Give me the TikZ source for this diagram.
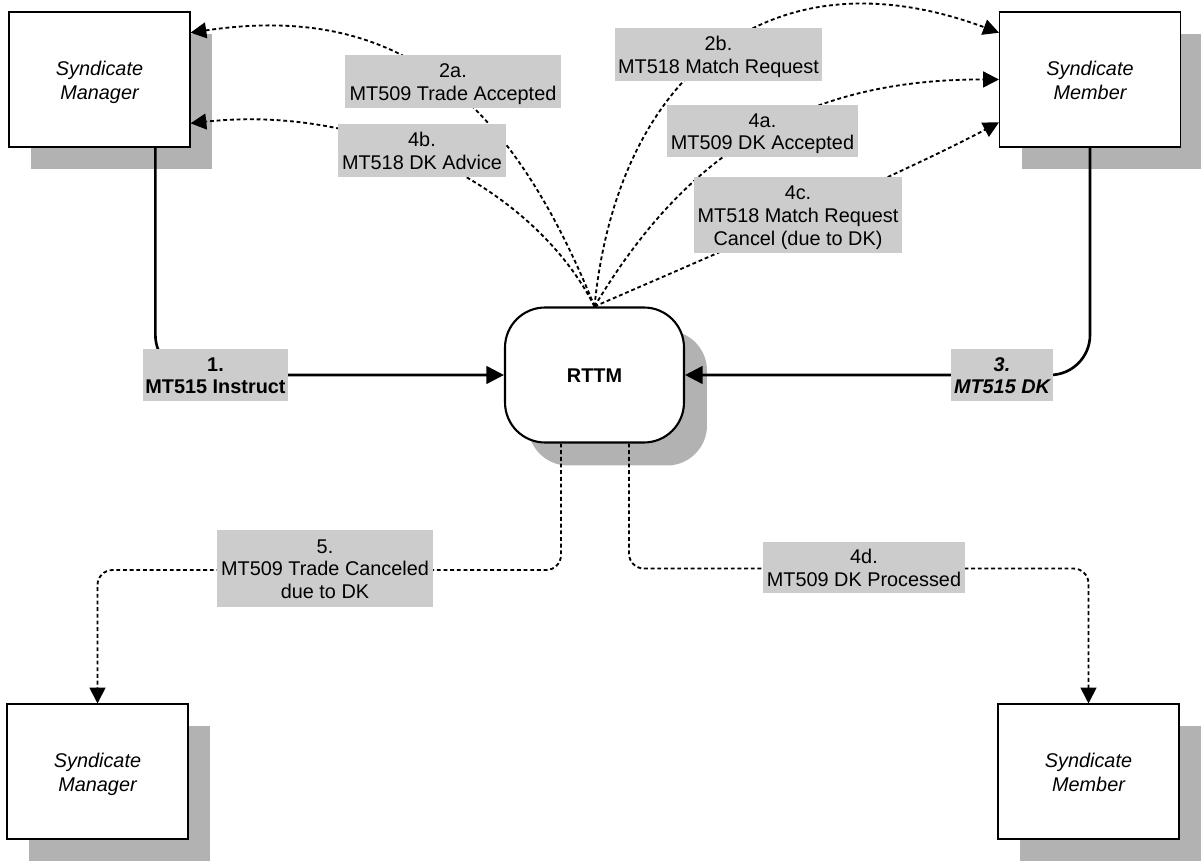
\documentclass[tikz,border=0pt]{standalone}
\usepackage{fontspec}
\setmainfont{Liberation Sans}
\usetikzlibrary{arrows.meta,calc,shadows}
\definecolor{labelgray}{HTML}{CCCCCC}
\definecolor{shadegray}{HTML}{B2B2B2}
\newcommand\lblfont{\fontsize{11.3}{12.9}\selectfont}
\newcommand\partyfont{\fontsize{11.3}{13.6}\selectfont\itshape}
% stacked lines, centred on their line boxes and set slightly low
\newcommand\stack[1]{\raisebox{-1.6pt}[\height][\depth]{%
  \begin{tabular}{@{}c@{}}#1\end{tabular}}}
\begin{document}
\begin{tikzpicture}[x=0.02cm,y=-0.02cm,
  party/.style={draw=black, line width=0.6pt, fill=white,
    minimum width=3.62cm, minimum height=2.7cm, inner sep=0pt,
    font=\partyfont,
    drop shadow={shadow xshift=0.44cm, shadow yshift=-0.44cm,
      fill=shadegray, opacity=1}},
  hub/.style={draw=black, line width=1.2pt, fill=white,
    rounded corners=0.8cm, minimum width=3.58cm, minimum height=2.7cm,
    inner sep=0pt, font=\lblfont\bfseries,
    drop shadow={shadow xshift=0.46cm, shadow yshift=-0.46cm,
      fill=shadegray, opacity=1}},
  msg/.style={fill=labelgray, inner sep=0pt, sharp corners,
    font=\lblfont},
  solidflow/.style={draw=black, line width=1.5pt},
  dotflow/.style={draw=black, line width=1.05pt,
    dash pattern=on 2.2pt off 1.6pt},
  tip/.style={-{Triangle[length=9pt,width=9pt]}},
  bigtip/.style={-{Triangle[length=10pt,width=10pt]}},
]
\useasboundingbox (0,0) rectangle (1201,861);

% parties and the matching engine
\node[party] (smA) at (99.5,79.5) {\stack{Syndicate\\Manager}};
\node[party] (mbA) at (1090,79.5) {\stack{Syndicate\\Member}};
\node[hub] (rttm) at (594.5,375) {\stack{RTTM}};
\node[party] (smB) at (97.5,771.5) {\stack{Syndicate\\Manager}};
\node[party] (mbB) at (1088.5,771.5) {\stack{Syndicate\\Member}};

% instructions into RTTM
\draw[solidflow, bigtip, rounded corners=0.8cm]
  ($(smA.south west)!0.807!(smA.south east)$) |- (rttm.west);
\draw[solidflow, bigtip, rounded corners=0.8cm]
  (mbA.south) |- (rttm.east);

% messages out of RTTM to the top parties
\draw[dotflow, tip] (rttm.north) .. controls (506,87) and (390,3) ..
  ($(smA.north east)!0.156!(smA.south east)$);
\draw[dotflow, tip] (rttm.north) .. controls (534,187) and (370,104) ..
  ($(smA.north east)!0.822!(smA.south east)$);
\draw[dotflow, tip] (rttm.north) .. controls (617,77) and (768,-53) ..
  ($(mbA.north west)!0.156!(mbA.south west)$);
\draw[dotflow, tip] (rttm.north) .. controls (684,157) and (798,79) ..
  (mbA.west);
\draw[dotflow, tip] (rttm.north) .. controls (690,265) and (900,175) ..
  ($(mbA.north west)!0.815!(mbA.south west)$);

% messages out of RTTM to the bottom parties
\draw[dotflow, tip, rounded corners=0.3cm]
  ([xshift=-0.67cm]rttm.south) -- ++(0,126.5) -| (smB.north);
\draw[dotflow, tip, rounded corners=0.3cm]
  ([xshift=0.69cm]rttm.south) -- ++(0,125) -| (mbB.north);

% message labels
\node[msg, minimum width=2.9cm, minimum height=1.04cm, font=\lblfont\bfseries]
  (m1) at (215.5,375) {\stack{1.\\MT515 Instruct}};
\node[msg, minimum width=2.04cm, minimum height=1.04cm, font=\lblfont\bfseries\itshape]
  (m3) at (1002,375) {\stack{3.\\MT515 DK}};
\node[msg, minimum width=4.32cm, minimum height=1.06cm]
  (m2a) at (453,81.5) {\stack{2a.\\MT509 Trade Accepted}};
\node[msg, minimum width=3.36cm, minimum height=1.06cm]
  (m4b) at (422,150.5) {\stack{4b.\\MT518 DK Advice}};
\node[msg, minimum width=4.14cm, minimum height=1.06cm]
  (m2b) at (718.5,54.5) {\stack{2b.\\MT518 Match Request}};
\node[msg, minimum width=3.82cm, minimum height=1.04cm]
  (m4a) at (762.5,131) {\stack{4a.\\MT509 DK Accepted}};
\node[msg, minimum width=4.16cm, minimum height=1.52cm]
  (m4c) at (798,215) {\stack{4c.\\MT518 Match Request\\Cancel (due to DK)}};
\node[msg, minimum width=4.32cm, minimum height=1.54cm]
  (m5) at (325,568.5) {\stack{5.\\MT509 Trade Canceled\\due to DK}};
\node[msg, minimum width=4.04cm, minimum height=1.04cm]
  (m4d) at (864,567.5) {\stack{4d.\\MT509 DK Processed}};
\end{tikzpicture}
\end{document}
